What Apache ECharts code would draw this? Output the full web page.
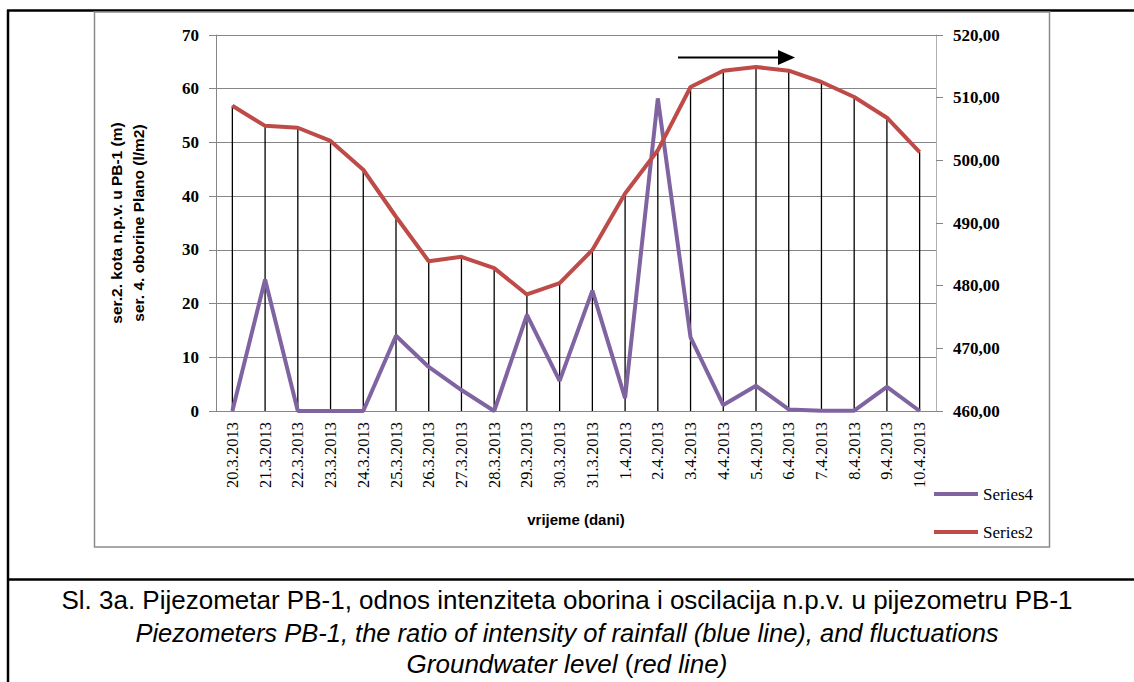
<!DOCTYPE html>
<html>
<head>
<meta charset="utf-8">
<script src="https://cdn.jsdelivr.net/npm/echarts@6/dist/echarts.min.js"></script>
<style>
html,body{margin:0;padding:0;background:#fff;}
#chart{width:1134px;height:682px;}
</style>
</head>
<body>
<div id="chart"></div>
<script>
const categories = ['20.3.2013','21.3.2013','22.3.2013','23.3.2013','24.3.2013','25.3.2013','26.3.2013','27.3.2013','28.3.2013','29.3.2013','30.3.2013','31.3.2013','1.4.2013','2.4.2013','3.4.2013','4.4.2013','5.4.2013','6.4.2013','7.4.2013','8.4.2013','9.4.2013','10.4.2013'];
// Series4: rainfall (l/m2), left axis
const series4 = [0, 24.5, 0, 0, 0, 14.0, 8.2, 3.9, 0, 17.9, 5.6, 22.4, 2.4, 58.2, 13.7, 1.1, 4.7, 0.3, 0.05, 0.05, 4.5, 0];
// Series2: groundwater level (m), right axis
const series2 = [508.7, 505.5, 505.2, 503.1, 498.5, 491.0, 483.9, 484.6, 482.8, 478.6, 480.4, 485.7, 494.7, 501.6, 511.7, 514.3, 514.9, 514.3, 512.5, 510.1, 506.8, 501.3];
const leftTicks = {min: 0, max: 70, interval: 10};
const rightTicks = {min: 460, max: 520, interval: 10};
const seriesNames = ['Series4', 'Series2'];
const leftAxisTitle = 'ser.2. kota n.p.v. u PB-1 (m)\nser. 4. oborine Plano (l/m2)';
const xAxisTitle = 'vrijeme (dani)';
const caption1 = 'Sl. 3a. Pijezometar PB-1, odnos intenziteta oborina i oscilacija n.p.v. u pijezometru PB-1';
const caption2 = 'Piezometers PB-1, the ratio of intensity of rainfall (blue line), and fluctuations';
const caption3a = 'Groundwater level ';
const caption3b = '(';
const caption3c = 'red line)';

const serif = '"Liberation Serif", "DejaVu Serif", serif';
const sans = '"Liberation Sans", Arial, sans-serif';

const chart = echarts.init(document.getElementById('chart'), null, {renderer: 'svg'});
chart.setOption({
  animation: false,
  backgroundColor: '#fff',
  grid: {left: 216, top: 35, width: 720, height: 376, containLabel: false},
  legend: {
    data: seriesNames,
    orient: 'vertical',
    left: 929,
    top: 480,
    icon: 'rect',
    itemWidth: 44,
    itemHeight: 4,
    itemGap: 20,
    textStyle: {fontFamily: serif, fontSize: 17, color: '#000', lineHeight: 18}
  },
  xAxis: {
    type: 'category',
    data: categories,
    boundaryGap: true,
    axisLine: {lineStyle: {color: '#868686', width: 1}},
    axisTick: {show: false},
    axisLabel: {rotate: 90, margin: 11, fontFamily: serif, fontSize: 16.5, color: '#000', interval: 0},
    name: xAxisTitle,
    nameLocation: 'middle',
    nameGap: 101,
    nameTextStyle: {fontFamily: sans, fontWeight: 'bold', fontSize: 15, color: '#000'}
  },
  yAxis: [
    {
      type: 'value',
      min: leftTicks.min, max: leftTicks.max, interval: leftTicks.interval,
      position: 'left',
      axisLine: {show: true, lineStyle: {color: '#868686', width: 1}},
      axisTick: {show: true, length: 7, lineStyle: {color: '#868686'}},
      axisLabel: {margin: 17, fontFamily: serif, fontWeight: 'bold', fontSize: 17, color: '#000'},
      splitLine: {show: true, lineStyle: {color: '#868686', width: 1}},
      name: leftAxisTitle,
      nameLocation: 'middle',
      nameGap: 67,
      nameRotate: 90,
      nameTextStyle: {fontFamily: sans, fontWeight: 'bold', fontSize: 15.5, color: '#000', lineHeight: 22}
    },
    {
      type: 'value',
      min: rightTicks.min, max: rightTicks.max, interval: rightTicks.interval,
      position: 'right',
      axisLine: {show: true, lineStyle: {color: '#b0b0b0', width: 1}},
      axisTick: {show: true, length: 7, lineStyle: {color: '#868686'}},
      axisLabel: {margin: 17, fontFamily: serif, fontWeight: 'bold', fontSize: 17, color: '#000',
        formatter: v => v.toFixed(2).replace('.', ',')},
      splitLine: {show: false}
    }
  ],
  series: [
    {
      name: 'drop',
      type: 'bar',
      yAxisIndex: 1,
      data: series2,
      barWidth: 1.3,
      clip: true,
      itemStyle: {color: '#000'},
      silent: true,
      z: 1
    },
    {
      name: 'Series4',
      type: 'line',
      yAxisIndex: 0,
      data: series4,
      showSymbol: false,
      symbol: 'none',
      lineStyle: {color: '#8064A2', width: 4},
      itemStyle: {color: '#8064A2'},
      z: 3
    },
    {
      name: 'Series2',
      type: 'line',
      yAxisIndex: 1,
      data: series2,
      showSymbol: false,
      symbol: 'none',
      lineStyle: {color: '#BE4B48', width: 4},
      itemStyle: {color: '#BE4B48'},
      z: 4
    }
  ],
  graphic: [
    // outer frame
    {type: 'line', shape: {x1: 8, y1: 10, x2: 8, y2: 682}, style: {stroke: '#000', lineWidth: 2.5}, silent: true},
    {type: 'line', shape: {x1: 7, y1: 10.5, x2: 1134, y2: 10.5}, style: {stroke: '#000', lineWidth: 2.5}, silent: true},
    {type: 'line', shape: {x1: 7, y1: 579.5, x2: 1134, y2: 579.5}, style: {stroke: '#000', lineWidth: 2.5}, silent: true},
    // chart area border
    {type: 'rect', shape: {x: 94.5, y: 12, width: 955, height: 535}, style: {fill: 'none', stroke: '#8c8c8c', lineWidth: 1.5}, silent: true},
    // arrow annotation
    {type: 'line', shape: {x1: 678, y1: 57.5, x2: 781, y2: 57.5}, style: {stroke: '#000', lineWidth: 2}, silent: true},
    {type: 'polygon', shape: {points: [[778, 50], [795, 57.5], [778, 65]]}, style: {fill: '#000'}, silent: true},
    // caption
    {type: 'text', left: 'center', top: 587, style: {text: caption1, font: '26px "Liberation Sans", Arial, sans-serif', fill: '#000'}},
    {type: 'text', left: 'center', top: 620, style: {text: caption2, font: 'italic 25.5px "Liberation Sans", Arial, sans-serif', fill: '#000'}},
    {type: 'text', left: 'center', top: 651, style: {
      text: '{i|' + caption3a + '}{n|' + caption3b + '}{i|' + caption3c + '}',
      rich: {
        i: {fontStyle: 'italic', fontSize: 26, fontFamily: sans, fill: '#000'},
        n: {fontSize: 26, fontFamily: sans, fill: '#000'}
      }
    }}
  ]
});
</script>
</body>
</html>
